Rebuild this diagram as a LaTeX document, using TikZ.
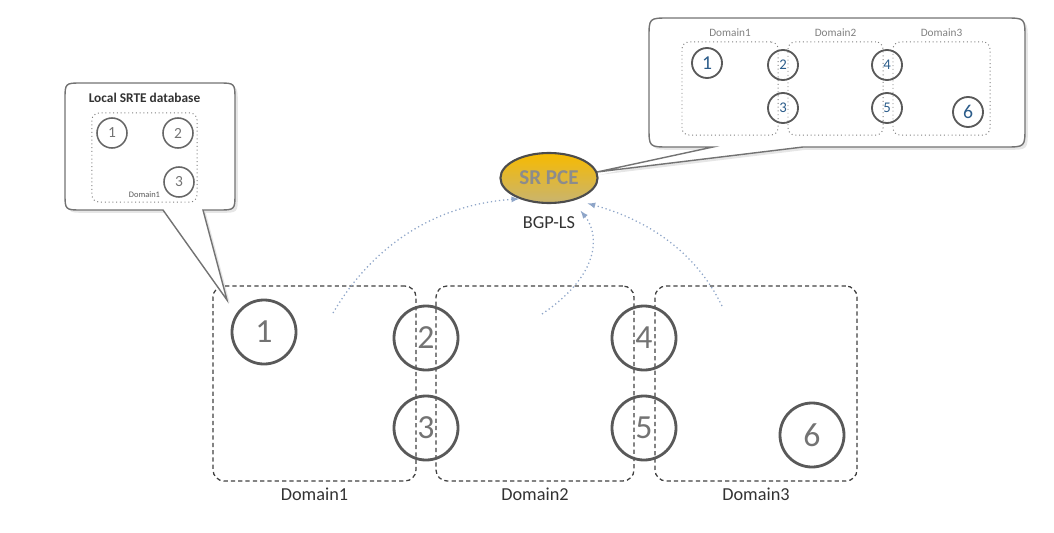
\documentclass[tikz,border=0pt]{standalone}
\usepackage{fontspec}
\setmainfont{Carlito}
\usetikzlibrary{shapes.geometric, arrows, positioning, shadows}

\definecolor{pcetop}{RGB}{247,186,0}
\definecolor{pcebot}{RGB}{200,180,112}
\definecolor{bgplink}{RGB}{142,165,200}
\definecolor{nodeblue}{RGB}{43,92,138}

\begin{document}
\begin{tikzpicture}[x=0.025cm, y=-0.025cm,
  dombox/.style={rectangle, draw=black!75, dash pattern=on 3pt off 2.2pt, line width=0.9pt, rounded corners=8pt, minimum height=4.875cm},
  minibox/.style={rectangle, draw=black!50, dotted, line width=0.7pt, rounded corners=5pt},
  router/.style={circle, draw=black!65, line width=2pt, minimum size=1.6cm, inner sep=0pt, text=black!55, font=\fontsize{24}{24}\selectfont},
  lrouter/.style={circle, draw=black!60, line width=1.1pt, minimum size=0.75cm, inner sep=0pt, text=black!55, font=\fontsize{11}{11}\selectfont},
  mrouter/.style={circle, draw=black!65, line width=1.3pt, minimum size=0.75cm, inner sep=0pt, text=nodeblue},
  domlabel/.style={text=black!80, font=\fontsize{13}{13}\selectfont, inner sep=0pt},
  minilabel/.style={text=black!50, font=\fontsize{8}{8}\selectfont, inner sep=0pt},
  pce/.style={ellipse, draw=black!70, line width=1.5pt, top color=pcetop, bottom color=pcebot, minimum width=2.375cm, minimum height=1.25cm, text=black!45, font=\bfseries\fontsize{15}{15}\selectfont},
  bubble/.style={draw=black!55, line width=1pt, fill=white, drop shadow={opacity=0.2, shadow xshift=2pt, shadow yshift=-2pt}},
  arrow/.style={bgplink, dotted, line width=0.9pt, ->, >=latex}]

  \useasboundingbox (0,0) rectangle (1054,533);

  % Domains
  \node (dom1) [dombox, minimum width=5.075cm] at (314.5,383.5) {};
  \node (dom2) [dombox, minimum width=4.95cm] at (535,383.5) {};
  \node (dom3) [dombox, minimum width=5.05cm] at (756,383.5) {};
  \node [domlabel, below=4pt of dom1] {Domain1};
  \node [domlabel, below=4pt of dom2] {Domain2};
  \node [domlabel, below=4pt of dom3] {Domain3};

  % Routers
  \node (r1) [router] at (264,332) {1};
  \node (r2) [router] at (426,338) {2};
  \node (r3) [router] at (426,428) {3};
  \node (r4) [router] at (644,338) {4};
  \node (r5) [router] at (644,428) {5};
  \node (r6) [router] at (812,435) {6};

  % Local SRTE database
  \coordinate (ltip) at (227,300);
  \draw [bubble] (ltip) -- (163,210) -- (82,210) .. controls (65,210) .. (65,193) -- (65,100) .. controls (65,83) .. (82,83) -- (218,83) .. controls (235,83) .. (235,100) -- (235,193) .. controls (235,210) .. (218,210) -- (203,210) -- cycle;
  \node (lbox) [minibox, minimum width=2.625cm, minimum height=2.225cm] at (144.5,157.5) {};
  \node [text=black!80, font=\bfseries\fontsize{9.5}{9.5}\selectfont, inner sep=0pt, above=7pt of lbox] {Local SRTE database};
  \node [text=black!65, font=\fontsize{6}{6}\selectfont, inner sep=0pt, above=3pt of lbox.south] {Domain1};
  \node (lr1) [lrouter] at (112,133) {1};
  \node (lr2) [lrouter] at (178,133) {2};
  \node (lr3) [lrouter] at (179,182) {3};

  % PCE view
  \coordinate (rtip) at (597,172);
  \draw [bubble] (rtip) -- (713,147) -- (669,147) .. controls (649,147) .. (649,127) -- (649,38) .. controls (649,18) .. (669,18) -- (1005,18) .. controls (1025,18) .. (1025,38) -- (1025,127) .. controls (1025,147) .. (1005,147) -- (803,147) -- cycle;
  \node (mbox1) [minibox, minimum width=2.4cm, minimum height=2.325cm] at (730,88.5) {};
  \node (mbox2) [minibox, minimum width=2.375cm, minimum height=2.325cm] at (835.5,88.5) {};
  \node (mbox3) [minibox, minimum width=2.425cm, minimum height=2.325cm] at (941.5,88.5) {};
  \node [minilabel, above=3.5pt of mbox1] {Domain1};
  \node [minilabel, above=3.5pt of mbox2] {Domain2};
  \node [minilabel, above=3.5pt of mbox3] {Domain3};
  \node (mr1) [mrouter, font=\fontsize{14}{14}\selectfont] at (707,63) {1};
  \node (mr2) [mrouter, font=\fontsize{10.5}{10.5}\selectfont] at (783,65) {2};
  \node (mr3) [mrouter, font=\fontsize{10.5}{10.5}\selectfont] at (783,108) {3};
  \node (mr4) [mrouter, font=\fontsize{10.5}{10.5}\selectfont] at (887,65) {4};
  \node (mr5) [mrouter, font=\fontsize{10.5}{10.5}\selectfont] at (887,108) {5};
  \node (mr6) [mrouter, font=\fontsize{14}{14}\selectfont] at (968,112) {6};

  % SR PCE
  \node (pce) [pce] at (549,178) {SR PCE};
  \node (bgp) [domlabel, below=9pt of pce] {BGP-LS};

  % BGP-LS feeds
  \coordinate (s1) at (333,313);
  \coordinate (s2) at (542,314);
  \coordinate (s3) at (722,306);
  \draw [arrow] (s1) .. controls (370,250) and (430,205) .. (pce.215);
  \draw [arrow, shorten >=9pt] (s2) .. controls (600,275) and (600,235) .. (pce.316);
  \draw [arrow, shorten >=9pt] (s3) .. controls (690,240) and (630,215) .. (pce.320);

\end{tikzpicture}
\end{document}
